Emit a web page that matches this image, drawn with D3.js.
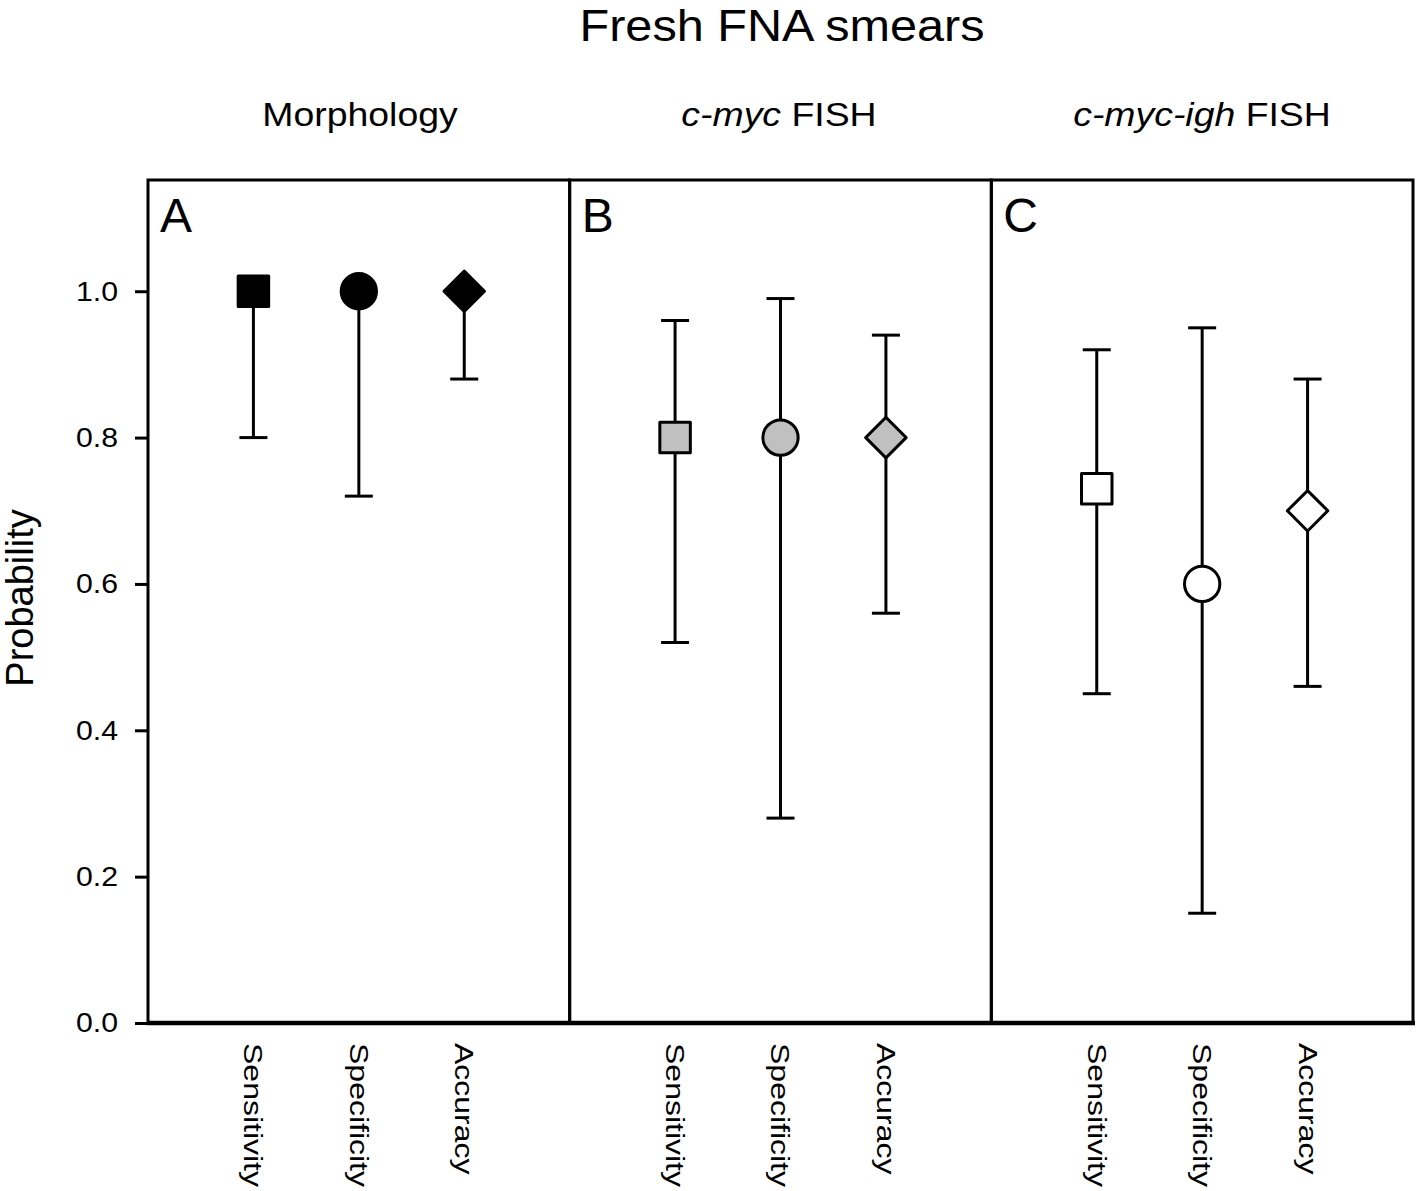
<!DOCTYPE html>
<html>
<head>
<meta charset="utf-8">
<script src="https://cdn.jsdelivr.net/npm/d3@7"></script>
<style>
  html, body { margin: 0; padding: 0; background: #fff; }
  text { font-family: "Liberation Sans", Arial, sans-serif; fill: #000; }
</style>
</head>
<body>
<script>
// ---- Data ----
const panels = ["A", "B", "C"];
const panelTitles = [["Morphology"], ["c-myc", " FISH"], ["c-myc-igh", " FISH"]];
const categories = ["Sensitivity", "Specificity", "Accuracy"];
const valuesA = [1.00, 1.00, 1.00];
const lowerA  = [0.80, 0.72, 0.88];
const upperA  = [1.00, 1.00, 1.00];
const valuesB = [0.80, 0.80, 0.80];
const lowerB  = [0.52, 0.28, 0.56];
const upperB  = [0.96, 0.99, 0.94];
const valuesC = [0.73, 0.60, 0.70];
const lowerC  = [0.45, 0.15, 0.46];
const upperC  = [0.92, 0.95, 0.88];
const panelFills = ["#000000", "#c0c0c0", "#ffffff"];
const yTicks = [0.0, 0.2, 0.4, 0.6, 0.8, 1.0];

const panelData = [
  {v: valuesA, lo: lowerA, hi: upperA},
  {v: valuesB, lo: lowerB, hi: upperB},
  {v: valuesC, lo: lowerC, hi: upperC}
];

(function () {
// ---- Layout ----
const W = 1418, H = 1191;
const mLeft = 148, mRight = 1413, mTop = 180, mBottom = 1023;
const svg = d3.select("body").append("svg").attr("width", W).attr("height", H);

const y = d3.scaleLinear().domain([0, 1.152]).range([mBottom, mTop]);
const panelX = d3.scaleBand().domain(panels).range([mLeft, mRight]).paddingInner(0).paddingOuter(0);
const pw = panelX.bandwidth();

// Title
svg.append("text").attr("transform", "translate(782,41) scale(1.08,1)").attr("text-anchor", "middle")
  .style("font-size", "45px").text("Fresh FNA smears");

// Y axis
const yAxis = d3.axisLeft(y).tickValues(yTicks).tickFormat(d3.format(".1f")).tickSize(13).tickPadding(17);
const ga = svg.append("g").attr("transform", `translate(${mLeft},0)`).call(yAxis);
ga.select(".domain").remove();
ga.selectAll(".tick line").attr("stroke", "#000").attr("stroke-width", 3);
ga.selectAll(".tick text").style("font-size", "28px").style("font-family", "'Liberation Sans', Arial, sans-serif")
  .attr("fill", "#000").attr("transform", "translate(-31,0) scale(1.08,1) translate(31,0)");

svg.append("text")
  .attr("transform", `translate(33,598) rotate(-90)`)
  .attr("text-anchor", "middle").style("font-size", "38px").text("Probability");

const headCenters = [360, 779, 1202];

panels.forEach((p, i) => {
  const x0 = panelX(p);
  const x = d3.scaleLinear().domain([0, 4]).range([x0, x0 + pw]);
  const g = svg.append("g");
  const d = panelData[i];

  // heading
  const ht = svg.append("text").attr("transform", `translate(${headCenters[i]},126) scale(1.1,1)`)
    .attr("text-anchor", "middle").style("font-size", "34px");
  panelTitles[i].forEach((s, k) => {
    const ts = ht.append("tspan").text(s);
    if (i > 0 && k === 0) ts.style("font-style", "italic");
  });

  // panel letter
  svg.append("text").attr("x", x0 + 12).attr("y", 232).style("font-size", "48px").text(p);

  // error bars
  categories.forEach((c, j) => {
    const cx = x(j + 1);
    g.append("line").attr("x1", cx).attr("x2", cx).attr("y1", y(d.lo[j])).attr("y2", y(d.hi[j]))
      .attr("stroke", "#000").attr("stroke-width", 3);
    [d.lo[j], d.hi[j]].forEach(e => {
      g.append("line").attr("x1", cx - 14).attr("x2", cx + 14).attr("y1", y(e)).attr("y2", y(e))
        .attr("stroke", "#000").attr("stroke-width", 3);
    });
  });

  // markers
  const shapes = [
    {type: d3.symbolSquare, size: 930, rot: 0},
    {type: d3.symbolCircle, size: 980, rot: 0},
    {type: d3.symbolSquare, size: 820, rot: 45}
  ];
  categories.forEach((c, j) => {
    const s = shapes[j];
    g.append("path")
      .attr("d", d3.symbol().type(s.type).size(s.size)())
      .attr("transform", `translate(${x(j + 1)},${y(d.v[j])}) rotate(${s.rot})`)
      .attr("fill", panelFills[i]).attr("stroke", "#000").attr("stroke-width", 3)
      .attr("stroke-linejoin", "round");
  });

  // category labels
  categories.forEach((c, j) => {
    svg.append("text")
      .attr("transform", `translate(${x(j + 1)},1043) rotate(90) scale(1.28,1)`)
      .attr("dy", "0.36em").style("font-size", "25px").text(c);
  });

  // frame
  svg.append("rect").attr("x", x0).attr("y", mTop).attr("width", pw).attr("height", mBottom - mTop)
    .attr("fill", "none").attr("stroke", "#000").attr("stroke-width", 3);
});

// bottom axis line (thicker)
svg.append("line").attr("x1", mLeft - 1).attr("x2", mRight + 2).attr("y1", mBottom).attr("y2", mBottom)
  .attr("stroke", "#000").attr("stroke-width", 4.5);
})();
</script>
</body>
</html>
